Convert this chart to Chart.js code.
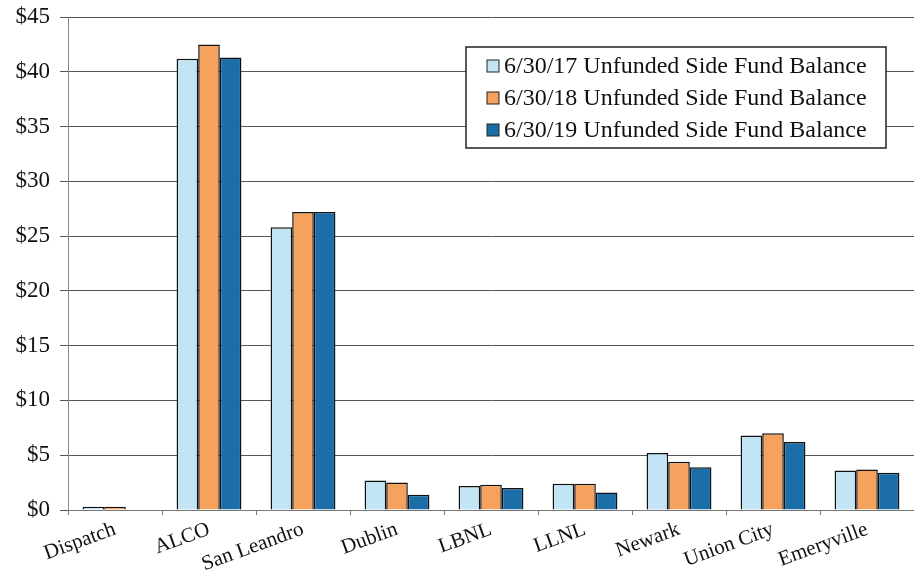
<!DOCTYPE html>
<html>
<head>
<meta charset="utf-8">
<script src="https://cdn.jsdelivr.net/npm/chart.js@4.4.0/dist/chart.umd.min.js"></script>
<style>
  html, body { margin: 0; padding: 0; background: #fff; }
  #wrap { width: 914px; height: 581px; }
</style>
</head>
<body>
<div id="wrap"><canvas id="chart"></canvas></div>
<script>
"use strict";
const categories = ["Dispatch", "ALCO", "San Leandro", "Dublin", "LBNL", "LLNL", "Newark", "Union City", "Emeryville"];
const fy17 = [0.3, 41.2, 25.8, 2.7, 2.2, 2.4, 5.2, 6.8, 3.6];
const fy18 = [0.3, 42.5, 27.2, 2.5, 2.3, 2.4, 4.4, 7.0, 3.7];
const fy19 = [0.05, 41.3, 27.2, 1.4, 2.0, 1.6, 3.9, 6.2, 3.4];
const seriesLabels = [
  "6/30/17 Unfunded Side Fund Balance",
  "6/30/18 Unfunded Side Fund Balance",
  "6/30/19 Unfunded Side Fund Balance",
];
const colors = ["#c3e4f4", "#f4a25e", "#1b6ea8"];

const serif = "'Liberation Serif', 'Times New Roman', serif";
Chart.defaults.font.family = serif;
Chart.defaults.color = "#111";

// legend drawn inside the plot, boxed, like the original
const boxLegend = {
  id: "boxLegend",
  afterDraw(chart) {
    const ctx = chart.ctx;
    const x = 466, y = 47, w = 420, h = 101;
    ctx.save();
    ctx.fillStyle = "#fff";
    ctx.fillRect(x, y, w, h);
    ctx.strokeStyle = "#222";
    ctx.lineWidth = 1.5;
    ctx.strokeRect(x, y, w, h);
    ctx.font = "24px " + serif;
    ctx.textBaseline = "middle";
    chart.data.datasets.forEach((ds, i) => {
      const cy = y + 19 + i * 32;
      ctx.fillStyle = ds.backgroundColor;
      ctx.fillRect(x + 21, cy - 6, 12, 12);
      ctx.strokeStyle = "#222";
      ctx.lineWidth = 1;
      ctx.strokeRect(x + 21, cy - 6, 12, 12);
      ctx.fillStyle = "#111";
      ctx.fillText(ds.label, x + 38, cy + 1);
    });
    ctx.restore();
  },
};

new Chart(document.getElementById("chart"), {
  type: "bar",
  data: {
    labels: categories,
    datasets: [fy17, fy18, fy19].map((d, i) => ({
      label: seriesLabels[i],
      data: d,
      backgroundColor: colors[i],
      borderColor: "#111",
      borderWidth: 1.5,
      categoryPercentage: 0.69,
      barPercentage: 1.0,
    })),
  },
  options: {
    responsive: true,
    maintainAspectRatio: false,
    animation: false,
    layout: { padding: { top: 0, right: 0, left: 0, bottom: 0 } },
    plugins: {
      legend: { display: false },
      tooltip: { enabled: false },
    },
    scales: {
      x: {
        afterFit: (s) => { s.height = 71; },
        grid: { display: true, drawOnChartArea: false, tickLength: 5, color: "#777", offset: true },
        border: { color: "#777" },
        ticks: {
          font: { size: 21 },
          color: "#111",
          minRotation: 20,
          maxRotation: 20,
          padding: 2,
        },
      },
      y: {
        min: 0,
        max: 45,
        afterFit: (s) => { s.width = 68; s.paddingTop = 17; },
        ticks: {
          stepSize: 5,
          font: { size: 23 },
          color: "#111",
          padding: 10,
          callback: (v) => "$" + v,
        },
        grid: { color: "#555", tickLength: 8 },
        border: { color: "#888" },
      },
    },
  },
  plugins: [boxLegend],
});
</script>
</body>
</html>
